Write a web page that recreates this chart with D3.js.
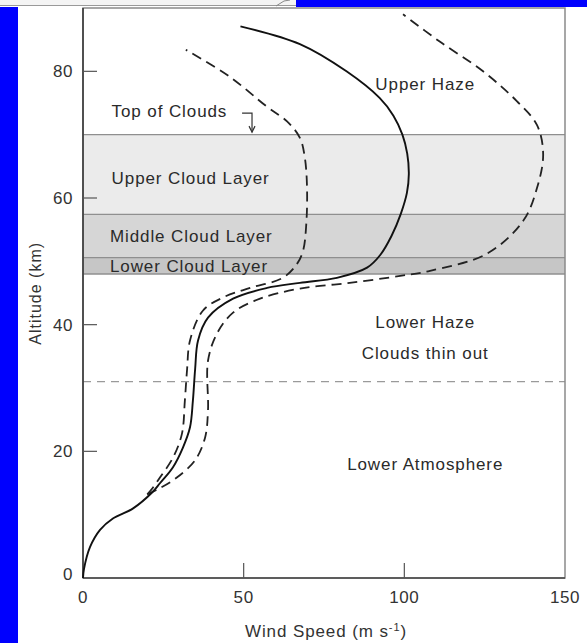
<!DOCTYPE html>
<html>
<head>
<meta charset="utf-8">
<script src="https://cdn.jsdelivr.net/npm/d3@7"></script>
<style>
  html, body { margin: 0; padding: 0; background: #fff; }
  svg { display: block; font-family: "Liberation Sans", Arial, sans-serif; }
</style>
</head>
<body>
<div id="chart"></div>
<script>
// wind speed profiles [wind m/s, altitude km]
const solidProfile = [
  [0, 0], [0.3, 1.4], [2.2, 4.9], [5.3, 7.6], [9.3, 9.4], [15.6, 11], [21.5, 13.5],
  [24, 15], [28, 17.5], [31.1, 20.6], [33.3, 23.8], [34.2, 28], [34.9, 33], [35.8, 37.5],
  [38.9, 41.1], [46.7, 44.1], [57.3, 45.8], [67.5, 46.6], [79, 47.4], [88.4, 49],
  [92.5, 51], [96, 54], [98.9, 57.5], [100.8, 60.8], [101.4, 63.8], [100.9, 67],
  [99.4, 70], [96.6, 73], [92.3, 75.8], [82, 80], [67.5, 84.3], [49, 87.1]
];
const innerDashed = [
  [20, 13.2], [21.8, 14.3], [24, 15.9], [28, 19], [30.8, 22.8], [31.7, 28], [32.4, 33],
  [33.3, 37.5], [37.3, 42.2], [43.6, 44.3], [52, 45.8], [62.2, 47.4], [66.6, 49.6],
  [68.5, 51.7], [69.5, 56], [69.7, 62], [69, 66.5], [67.5, 69.5], [63.5, 72.1],
  [57.3, 74.4], [45.5, 79.2], [32, 83.4]
];
const outerDashed = [
  [20, 13.2], [24, 14.2], [29.3, 15.9], [34.9, 18.6], [38, 22.2], [38.9, 26.5],
  [38.9, 34.3], [41.7, 38.6], [46.7, 41.9], [55.1, 44.1], [67.5, 45.7], [83, 46.6],
  [98.7, 47.7], [108, 48.5], [125.7, 51.2], [137, 56.4], [141.3, 61.6], [143.2, 66.9],
  [141.3, 71.5], [135, 75.3], [124.5, 80], [111, 84.7], [99.6, 89]
];

// cloud layers [top km, bottom km]
const cloudLayers = [
  { name: 'Upper Cloud Layer', top: 70, bottom: 57.4, fill: '#ebebeb' },
  { name: 'Middle Cloud Layer', top: 57.4, bottom: 50.6, fill: '#d6d6d6' },
  { name: 'Lower Cloud Layer', top: 50.6, bottom: 48, fill: '#c6c6c6' }
];
const hazeBoundary = 31;

const xTicks = [0, 50, 100, 150];
const yTicks = [0, 20, 40, 60, 80];

// annotations [text, wind, altitude, anchor]
const labels = [
  ['Upper Haze', 106.5, 78, 'middle'],
  ['Top of Clouds', 8.9, 73.7, 'start'],
  ['Upper Cloud Layer', 8.9, 63.1, 'start'],
  ['Middle Cloud Layer', 8.4, 54, 'start'],
  ['Lower Cloud Layer', 8.4, 49.3, 'start'],
  ['Lower Haze', 106.5, 40.5, 'middle'],
  ['Clouds thin out', 106.5, 35.6, 'middle'],
  ['Lower Atmosphere', 106.5, 18, 'middle']
];
const topArrow = [[49.5, 73.4], [52.6, 73.4], [52.6, 70.4]];

const width = 587, height = 643;
const plotLeft = 83, plotRight = 565, plotTop = 8, plotBottom = 578;

const svg = d3.select('#chart').append('svg')
  .attr('width', width).attr('height', height);

// page background pieces (blue strips & top bar)
svg.append('rect').attr('x', 0).attr('y', 7).attr('width', 18).attr('height', height - 7).attr('fill', '#0000fe');
svg.append('rect').attr('x', 296).attr('y', 0).attr('width', width - 296).attr('height', 7).attr('fill', '#0000fe');
svg.append('rect').attr('x', 0).attr('y', 0).attr('width', 296).attr('height', 6).attr('fill', '#f4f4f4');
svg.append('line').attr('x1', 0).attr('x2', 296).attr('y1', 5.5).attr('y2', 5.5).attr('stroke', '#999');
svg.append('path').attr('d', 'M276,6 L284,1 L290,0').attr('fill', 'none').attr('stroke', '#888');

const x = d3.scaleLinear().domain([0, 150]).range([plotLeft, plotRight]);
const y = d3.scaleLinear().domain([0, 90]).range([plotBottom, plotTop]);

// cloud bands
svg.selectAll('rect.band').data(cloudLayers).enter().append('rect')
  .attr('class', 'band')
  .attr('x', x(0)).attr('width', x(150) - x(0))
  .attr('y', d => y(d.top)).attr('height', d => y(d.bottom) - y(d.top))
  .attr('fill', d => d.fill);

const bounds = [...new Set(cloudLayers.flatMap(d => [d.top, d.bottom]))];
svg.selectAll('line.bound').data(bounds).enter().append('line')
  .attr('x1', x(0)).attr('x2', x(150))
  .attr('y1', d => y(d)).attr('y2', d => y(d))
  .attr('stroke', '#8f8f8f').attr('stroke-width', 1.3);

svg.append('line')
  .attr('x1', x(0)).attr('x2', x(150))
  .attr('y1', y(hazeBoundary)).attr('y2', y(hazeBoundary))
  .attr('stroke', '#9a9a9a').attr('stroke-width', 1.4)
  .attr('stroke-dasharray', '8,6');

// frame
svg.append('rect').attr('x', plotLeft).attr('y', plotTop)
  .attr('width', plotRight - plotLeft).attr('height', plotBottom - plotTop)
  .attr('fill', 'none').attr('stroke', '#8a8a8a').attr('stroke-width', 1.5);
svg.append('line').attr('x1', plotLeft).attr('x2', plotLeft).attr('y1', plotTop).attr('y2', plotBottom)
  .attr('stroke', '#333').attr('stroke-width', 1.5);
svg.append('line').attr('x1', plotLeft).attr('x2', plotRight).attr('y1', plotBottom).attr('y2', plotBottom)
  .attr('stroke', '#444').attr('stroke-width', 1.6);

// ticks inside
svg.selectAll('line.xt').data(xTicks.filter(d => d > 0 && d < 150)).enter().append('line')
  .attr('x1', d => x(d)).attr('x2', d => x(d))
  .attr('y1', plotBottom).attr('y2', plotBottom - 15)
  .attr('stroke', '#555').attr('stroke-width', 1.2);
svg.selectAll('line.yt').data(yTicks.filter(d => d > 0)).enter().append('line')
  .attr('x1', plotLeft).attr('x2', plotLeft + 14)
  .attr('y1', d => y(d)).attr('y2', d => y(d))
  .attr('stroke', '#555').attr('stroke-width', 1.2);

// tick labels
svg.selectAll('text.xl').data(xTicks).enter().append('text')
  .attr('x', d => x(d)).attr('y', plotBottom + 25)
  .attr('text-anchor', 'middle').attr('font-size', 17).attr('letter-spacing', 0.6)
  .attr('fill', '#333').text(d => d);
svg.selectAll('text.yl').data(yTicks).enter().append('text')
  .attr('x', plotLeft - 10).attr('y', d => y(d) + 6 - (d === 0 ? 4 : 0))
  .attr('text-anchor', 'end').attr('font-size', 17).attr('letter-spacing', 0.6)
  .attr('fill', '#333').text(d => d);

// axis titles
const xt = svg.append('text')
  .attr('x', 326).attr('y', 637)
  .attr('text-anchor', 'middle').attr('font-size', 17).attr('letter-spacing', 0.9)
  .attr('fill', '#333');
xt.append('tspan').text('Wind Speed (m s');
xt.append('tspan').attr('font-size', 11).attr('dy', -6).text('-1');
xt.append('tspan').attr('dy', 6).text(')');

svg.append('text')
  .attr('transform', `translate(41,${(y(40) + y(60)) / 2 + 32}) rotate(-90)`)
  .attr('text-anchor', 'middle').attr('font-size', 16).attr('letter-spacing', 1)
  .attr('fill', '#333').text('Altitude (km)');

// annotations
svg.selectAll('text.ann').data(labels).enter().append('text')
  .attr('x', d => x(d[1])).attr('y', d => y(d[2]))
  .attr('dy', '0.36em')
  .attr('text-anchor', d => d[3])
  .attr('font-size', 17).attr('letter-spacing', 0.9)
  .attr('fill', '#2a2a2a').text(d => d[0]);

svg.append('path')
  .attr('d', d3.line().x(d => x(d[0])).y(d => y(d[1])).curve(d3.curveLinear)(topArrow))
  .attr('fill', 'none').attr('stroke', '#333').attr('stroke-width', 1.2);
const tip = topArrow[topArrow.length - 1];
svg.append('path')
  .attr('d', `M${x(tip[0]) - 3},${y(tip[1]) - 6} L${x(tip[0])},${y(tip[1])} L${x(tip[0]) + 3},${y(tip[1]) - 6}`)
  .attr('fill', 'none').attr('stroke', '#333').attr('stroke-width', 1.2);

// profiles
const line = d3.line().x(d => x(d[0])).y(d => y(d[1])).curve(d3.curveCatmullRom.alpha(0.5));

svg.append('path').attr('d', line(innerDashed))
  .attr('fill', 'none').attr('stroke', '#222').attr('stroke-width', 1.8)
  .attr('stroke-dasharray', '10,6');
svg.append('path').attr('d', line(outerDashed))
  .attr('fill', 'none').attr('stroke', '#222').attr('stroke-width', 1.8)
  .attr('stroke-dasharray', '10,6');
svg.append('path').attr('d', line(solidProfile))
  .attr('fill', 'none').attr('stroke', '#111').attr('stroke-width', 1.9);
</script>
</body>
</html>
